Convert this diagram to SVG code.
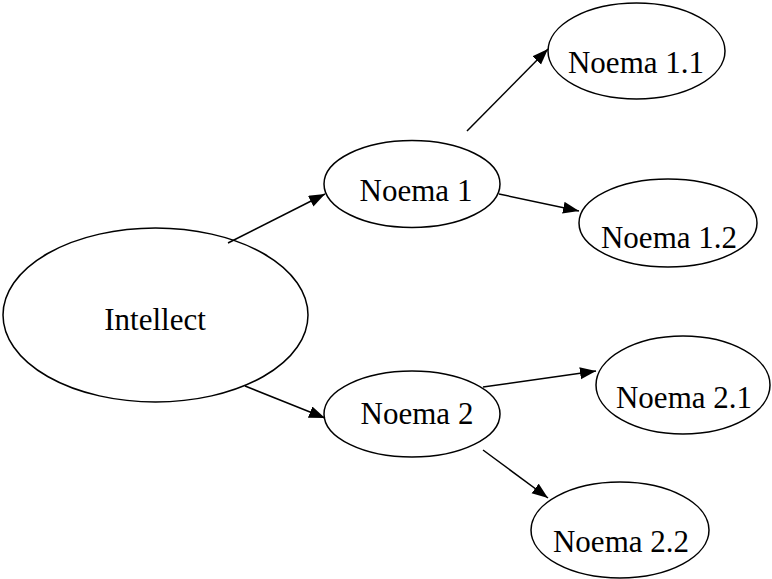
<svg xmlns="http://www.w3.org/2000/svg" width="772" height="579" viewBox="0 0 772 579">
<style>
ellipse{fill:#fff;stroke:#000;stroke-width:1.5}
text{font-family:"Liberation Serif","Times New Roman",serif;font-size:31px;fill:#000;text-anchor:middle}
.c line{stroke:#000;stroke-width:1.5;marker-end:url(#ah)}
</style>
<defs>
<marker id="ah" markerUnits="userSpaceOnUse" markerWidth="17" markerHeight="13" refX="16" refY="6" orient="auto">
<path d="M0,0 L16,6 L0,12 z" fill="#000"/>
</marker>
</defs>
<rect width="772" height="579" fill="#fff"/>
<g id="intellect"><ellipse cx="155.5" cy="315" rx="152.5" ry="87"/><text x="155" y="330">Intellect</text></g>
<g id="noema1"><ellipse cx="412" cy="184" rx="88" ry="43.5"/><text x="416" y="201">Noema 1</text></g>
<g id="noema11"><ellipse cx="636.5" cy="51" rx="88.5" ry="48"/><text x="636" y="73">Noema 1.1</text></g>
<g id="noema12"><ellipse cx="668" cy="223" rx="89" ry="44"/><text x="669" y="248">Noema 1.2</text></g>
<g id="noema2"><ellipse cx="412" cy="414" rx="88" ry="43"/><text x="417" y="424">Noema 2</text></g>
<g id="noema21"><ellipse cx="683" cy="385" rx="87" ry="49"/><text x="684" y="408">Noema 2.1</text></g>
<g id="noema22"><ellipse cx="620" cy="530" rx="89" ry="48"/><text x="621" y="552">Noema 2.2</text></g>
<g class="c" id="connectors">
<line x1="228" y1="243" x2="325" y2="194"/>
<line x1="467" y1="131" x2="548" y2="49"/>
<line x1="499" y1="194" x2="579" y2="211"/>
<line x1="245" y1="386" x2="325" y2="418"/>
<line x1="483" y1="387" x2="596" y2="371"/>
<line x1="483" y1="450" x2="548" y2="498"/>
</g>
</svg>
